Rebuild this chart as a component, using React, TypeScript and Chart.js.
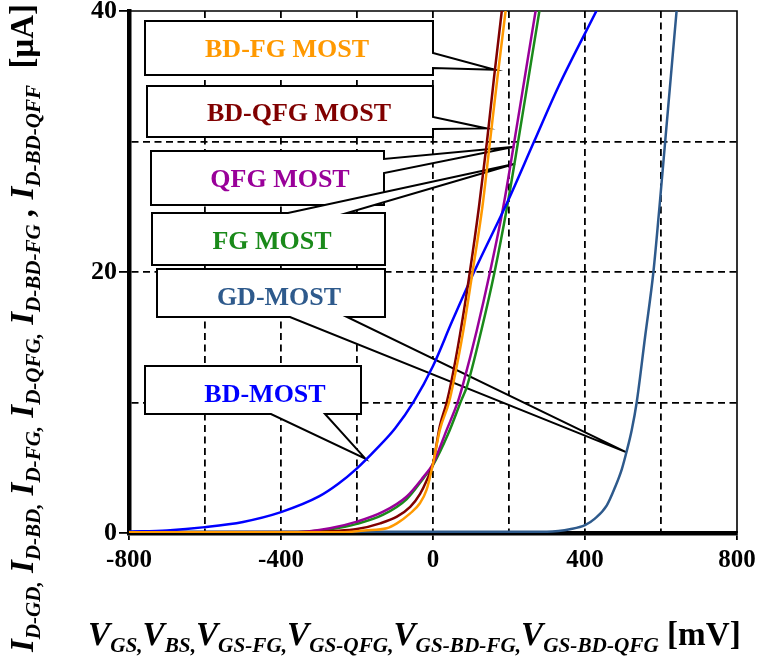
import React, { useEffect, useRef } from "react";
import { Chart, registerables } from "chart.js";
Chart.register(...registerables);

// ---- data (mV, µA) ----
const xTickLabels = [-800, -400, 0, 400, 800];
const yTickLabels = [0, 20, 40];

const bdFgV = [-800, -240, -180, -122, -95, -60, -34, -17, 0, 18, 42, 55, 78, 104, 130, 150, 170, 191, 200];
const bdFgI = [0.05, 0.05, 0.2, 0.36, 0.74, 1.5, 2.3, 3.3, 5.3, 7.9, 10, 11.7, 15.2, 20, 25, 30, 35, 40, 42];

const bdQfgV = [-800, -300, -271, -200, -139, -95, -60, -34, -17, 0, 18, 36, 49, 71, 97, 121, 142, 161, 181, 190];
const bdQfgI = [0.05, 0.08, 0.14, 0.3, 0.74, 1.25, 2.0, 3.0, 4.0, 5.3, 8.2, 10, 11.7, 15.2, 20, 25, 30, 35, 40, 42];

const qfgV = [-800, -400, -330, -271, -200, -131, -69, -25, 0, 36, 67, 80, 115, 150, 185, 214, 242, 270, 280];
const qfgI = [0, 0.02, 0.12, 0.36, 0.87, 1.63, 2.8, 4.3, 5.3, 7.9, 10.2, 11.5, 15.5, 20, 25, 30, 35, 40, 41.7];

const fgV = [-800, -400, -330, -271, -200, -131, -69, -25, 0, 40, 75, 89, 127, 162, 195, 224, 252, 280, 290];
const fgI = [0, 0.02, 0.1, 0.28, 0.7, 1.4, 2.6, 4.2, 5.2, 7.6, 10.2, 11.2, 15.5, 20, 25, 30, 35, 40, 41.7];

const bdV = [-800, -700, -600, -500, -400, -300, -250, -200, -150, -100, -50, 0, 50, 108, 198, 266, 330, 430];
const bdI = [0.1, 0.2, 0.45, 0.85, 1.6, 2.8, 3.75, 4.95, 6.4, 8.0, 10.1, 12.8, 16.2, 20, 25.5, 30, 34.2, 40];

const gdV = [-800, 300, 330, 360, 400, 426, 457, 479, 497, 510, 523, 536, 558, 580, 596, 611, 626, 641, 646];
const gdI = [0.1, 0.1, 0.15, 0.28, 0.6, 1.1, 2.1, 3.5, 4.9, 6.3, 7.9, 10, 15, 20, 25, 30, 35, 40, 41.6];

const seriesNames = ["BD-FG MOST", "BD-QFG MOST", "BD-MOST", "QFG MOST", "FG MOST", "GD-MOST"];
const seriesColors = ["#FF9900", "#800000", "#0000FF", "#990099", "#1A8A1A", "#2E5A8C"];

// ---- callout layout (box in px, tip in data units) ----
const callouts = [
  { name: "BD-FG MOST", box: [145, 21, 433, 75], side: "right", base: [53, 68], tip: [163, 35.5], text: [287, 56.5] },
  { name: "BD-QFG MOST", box: [147, 86, 433, 137], side: "right", base: [117, 129], tip: [141, 31], text: [299, 120.5] },
  { name: "QFG MOST", box: [151, 151, 384, 205], side: "right", base: [159, 173], tip: [214, 29.6], text: [280, 186.5] },
  { name: "FG MOST", box: [152, 213, 385, 265], side: "top", base: [288, 347], tip: [216, 28.3], text: [272, 248.5] },
  { name: "GD-MOST", box: [157, 269, 385, 317], side: "bottom", base: [290, 347], tip: [508, 6.2], text: [279, 305] },
  { name: "BD-MOST", box: [145, 366, 361, 414], side: "bottom", base: [271, 325], tip: [-178, 5.7], text: [265, 401.5] },
];

const FONT = '"Liberation Serif", "Times New Roman", serif';

type Seg = { t: string; sub: boolean; italic: boolean };

const xTitle: Seg[] = [];
["GS", "BS", "GS-FG", "GS-QFG", "GS-BD-FG", "GS-BD-QFG"].forEach((s, i, a) => {
  xTitle.push({ t: "V", sub: false, italic: true });
  xTitle.push({ t: s + (i < a.length - 1 ? "," : ""), sub: true, italic: true });
});
xTitle.push({ t: " [mV]", sub: false, italic: false });

const yTitle: Seg[] = [];
const ySubs = ["D-GD,", "D-BD,", "D-FG,", "D-QFG,", "D-BD-FG", "D-BD-QFF"];
ySubs.forEach((s, i) => {
  yTitle.push({ t: (i > 0 ? (i === 5 ? " , " : " ") : "") + "I", sub: false, italic: true });
  yTitle.push({ t: s, sub: true, italic: true });
});
yTitle.push({ t: "  [µA]", sub: false, italic: false });

function drawRich(
  ctx: CanvasRenderingContext2D, segs: Seg[], x: number, y: number, angle: number,
  target: number, mainBase: number, ratio: number, dyRatio: number
) {
  const fontOf = (s: Seg, main: number) =>
    `${s.italic ? "italic " : ""}bold ${s.sub ? main * ratio : main}px ${FONT}`;
  let w = 0;
  for (const s of segs) { ctx.font = fontOf(s, mainBase); w += ctx.measureText(s.t).width; }
  const main = (mainBase * target) / w;
  ctx.save();
  ctx.translate(x, y);
  ctx.rotate(angle);
  ctx.fillStyle = "#000";
  ctx.textAlign = "left";
  ctx.textBaseline = "alphabetic";
  let cx = 0;
  for (const s of segs) {
    ctx.font = fontOf(s, main);
    ctx.fillText(s.t, cx, s.sub ? main * dyRatio : 0);
    cx += ctx.measureText(s.t).width;
  }
  ctx.restore();
}

const pair = (v: number[], i: number[]) => v.map((x, k) => ({ x, y: i[k] }));

export default function App() {
  const ref = useRef<HTMLCanvasElement>(null);
  useEffect(() => {
    const canvas = ref.current!;
    const series = [pair(bdFgV, bdFgI), pair(bdQfgV, bdQfgI), pair(bdV, bdI), pair(qfgV, qfgI), pair(fgV, fgI), pair(gdV, gdI)];

    const decor = {
      id: "decor",
      beforeDatasetsDraw(chart: any) {
        const { ctx, chartArea: a, scales } = chart;
        ctx.save();
        ctx.strokeStyle = "#000";
        ctx.lineWidth = 1.6;
        ctx.beginPath();
        ctx.moveTo(a.left, a.top);
        ctx.lineTo(a.right, a.top);
        ctx.lineTo(a.right, a.bottom);
        ctx.stroke();
        callouts.forEach((c) => {
          const [x0, y0, x1, y1] = c.box;
          const tx = scales.x.getPixelForValue(c.tip[0]);
          const ty = scales.y.getPixelForValue(c.tip[1]);
          const [b0, b1] = c.base;
          ctx.beginPath();
          if (c.side === "right") {
            ctx.moveTo(x0, y0); ctx.lineTo(x1, y0); ctx.lineTo(x1, b0); ctx.lineTo(tx, ty);
            ctx.lineTo(x1, b1); ctx.lineTo(x1, y1); ctx.lineTo(x0, y1);
          } else if (c.side === "top") {
            ctx.moveTo(x0, y0); ctx.lineTo(b0, y0); ctx.lineTo(tx, ty); ctx.lineTo(b1, y0);
            ctx.lineTo(x1, y0); ctx.lineTo(x1, y1); ctx.lineTo(x0, y1);
          } else {
            ctx.moveTo(x0, y0); ctx.lineTo(x1, y0); ctx.lineTo(x1, y1); ctx.lineTo(b1, y1);
            ctx.lineTo(tx, ty); ctx.lineTo(b0, y1); ctx.lineTo(x0, y1);
          }
          ctx.closePath();
          ctx.fillStyle = "#fff";
          ctx.fill();
          ctx.lineWidth = 2;
          ctx.lineJoin = "miter";
          ctx.strokeStyle = "#000";
          ctx.stroke();
          const idx = seriesNames.indexOf(c.name);
          ctx.fillStyle = seriesColors[idx];
          ctx.font = `bold 26px ${FONT}`;
          ctx.textAlign = "center";
          ctx.textBaseline = "alphabetic";
          ctx.fillText(c.name, c.text[0], c.text[1]);
        });
        ctx.restore();
      },
      afterDraw(chart: any) {
        const { ctx } = chart;
        drawRich(ctx, xTitle, 88, 645, 0, 653, 32, 0.64, 0.2);
        drawRich(ctx, yTitle, 33, 652, -Math.PI / 2, 648, 30, 0.64, 0.2);
      },
    };

    const chart = new Chart(canvas, {
      type: "line",
      data: {
        datasets: series.map((d, i) => ({
          label: seriesNames[i],
          data: d,
          borderColor: seriesColors[i],
          backgroundColor: seriesColors[i],
          borderWidth: 2.5,
          pointRadius: 0,
          fill: false,
          cubicInterpolationMode: "monotone" as const,
        })),
      },
      options: {
        responsive: false,
        animation: false,
        devicePixelRatio: 1,
        layout: { padding: { left: 0, right: 32, top: 11, bottom: 0 } },
        plugins: { legend: { display: false }, tooltip: { enabled: false } },
        scales: {
          x: {
            type: "linear",
            min: -800,
            max: 800,
            afterFit: (s: any) => { s.height = 127; s.paddingLeft = 0; s.paddingRight = 0; },
            ticks: {
              stepSize: 200,
              autoSkip: false,
              maxRotation: 0,
              padding: 6,
              color: "#000",
              font: { family: FONT, size: 25, weight: "bold" },
              callback: (v: any) => (xTickLabels.includes(Number(v)) ? String(v) : ""),
            },
            grid: {
              color: (c: any) => (c.tick && Math.abs(c.tick.value) === 800 ? "rgba(0,0,0,0)" : "#000"),
              lineWidth: 1.8,
              tickLength: 7,
              tickWidth: 1.8,
              tickColor: (c: any) => (c.tick && xTickLabels.includes(c.tick.value) ? "#000" : "rgba(0,0,0,0)"),
            },
            border: { display: true, color: "#000", width: 4.5, dash: [7, 4.5] },
          },
          y: {
            type: "linear",
            min: 0,
            max: 40,
            afterFit: (s: any) => { s.width = 129; s.paddingTop = 0; s.paddingBottom = 0; },
            ticks: {
              stepSize: 10,
              autoSkip: false,
              padding: 2,
              color: "#000",
              font: { family: FONT, size: 26, weight: "bold" },
              callback: (v: any) => (yTickLabels.includes(Number(v)) ? String(v) : ""),
            },
            grid: {
              color: (c: any) => (c.tick && (c.tick.value === 0 || c.tick.value === 40) ? "rgba(0,0,0,0)" : "#000"),
              lineWidth: 1.8,
              tickLength: 10,
              tickWidth: 1.8,
              tickColor: (c: any) => (c.tick && yTickLabels.includes(c.tick.value) ? "#000" : "rgba(0,0,0,0)"),
            },
            border: { display: true, color: "#000", width: 4.5, dash: [7, 4.5] },
          },
        },
      },
      plugins: [decor],
    });
    return () => chart.destroy();
  }, []);
  return (
    <div style={{ position: "fixed", left: 0, top: 0, width: 769, height: 660, background: "#fff" }}>
      <canvas ref={ref} width={769} height={660} style={{ width: 769, height: 660, display: "block" }} />
    </div>
  );
}
